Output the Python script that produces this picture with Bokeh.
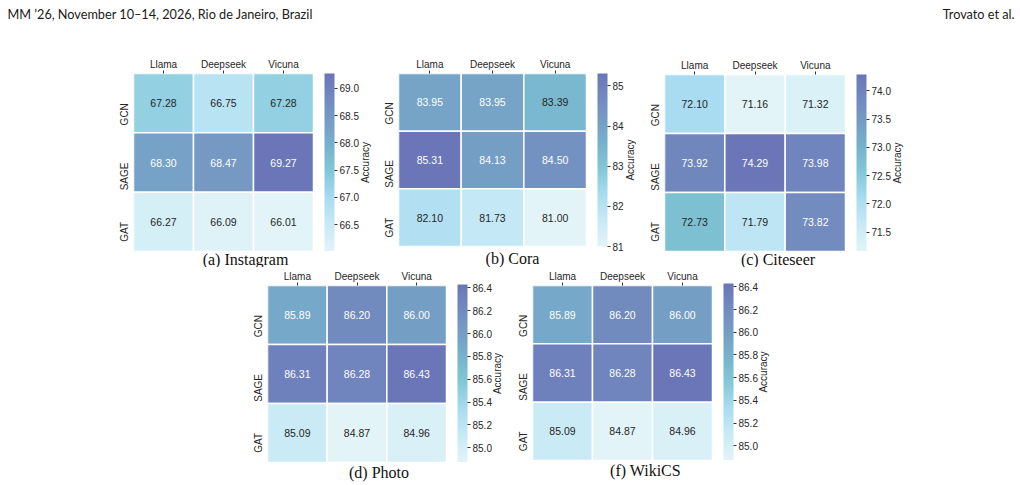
import math
from bokeh.plotting import figure
from bokeh.models import (ColumnDataSource, LinearColorMapper, ColorBar, FixedTicker,
                          PrintfTickFormatter, Label, Spacer, Range1d)
from bokeh.layouts import column, row
from bokeh.transform import transform
from bokeh.embed import file_html
from bokeh.resources import INLINE
from bokeh.core.properties import value

# ---------------- data ----------------
models = ["GCN", "SAGE", "GAT"]
llms = ["Llama", "Deepseek", "Vicuna"]

instagram = [[67.28, 66.75, 67.28], [68.30, 68.47, 69.27], [66.27, 66.09, 66.01]]
cora = [[83.95, 83.95, 83.39], [85.31, 84.13, 84.50], [82.10, 81.73, 81.00]]
citeseer = [[72.10, 71.16, 71.32], [73.92, 74.29, 73.98], [72.73, 71.79, 73.82]]
photo = [[85.89, 86.20, 86.00], [86.31, 86.28, 86.43], [85.09, 84.87, 84.96]]
wikics = [[85.89, 86.20, 86.00], [86.31, 86.28, 86.43], [85.09, 84.87, 84.96]]

instagram_ticks = [66.5, 67.0, 67.5, 68.0, 68.5, 69.0]
cora_ticks = [81, 82, 83, 84, 85]
citeseer_ticks = [71.5, 72.0, 72.5, 73.0, 73.5, 74.0]
photo_ticks = [85.0, 85.2, 85.4, 85.6, 85.8, 86.0, 86.2, 86.4]
wikics_ticks = [85.0, 85.2, 85.4, 85.6, 85.8, 86.0, 86.2, 86.4]

header_left = "MM \u201926, November 10\u201314, 2026, Rio de Janeiro, Brazil"
header_right = "Trovato et al."
cbar_title = "Accuracy"

# ---------------- colormap ----------------
anchors = [(0.0, "#e3f4f8"), (0.15, "#c8eaf5"), (0.30, "#a9dcf1"), (0.46, "#80c7d5"),
           (0.61, "#76afcc"), (0.76, "#7599c3"), (0.92, "#6f82bc"), (1.0, "#6a76b7")]


def h2r(h):
    return tuple(int(h[i:i + 2], 16) for i in (1, 3, 5))


palette = []
for i in range(256):
    t = i / 255
    for (t0, c0), (t1, c1) in zip(anchors, anchors[1:]):
        if t0 <= t <= t1:
            f = (t - t0) / (t1 - t0)
            a, b = h2r(c0), h2r(c1)
            palette.append("#%02x%02x%02x" % tuple(round(a[k] + (b[k] - a[k]) * f) for k in range(3)))
            break


def lum(h):
    r = []
    for c in h2r(h):
        c = c / 255
        r.append(c / 12.92 if c <= 0.04045 else ((c + 0.055) / 1.055) ** 2.4)
    return 0.2126 * r[0] + 0.7152 * r[1] + 0.0722 * r[2]


FONT = "Liberation Sans"
TXT = "#262626"


def blank(w, h, yflip=False):
    f = figure(width=w, height=h, x_range=Range1d(0, w),
               y_range=Range1d(h, 0) if yflip else Range1d(0, h),
               x_axis_type=None, y_axis_type=None, output_backend="svg",
               toolbar_location=None, min_border=0)
    f.grid.visible = False
    f.outline_line_color = None
    return f


def subplot(data, caption, ticks, fmt, bl, fw, bt, fh, sw, acc_dx, cap_h, cap_dx, cap_dy, ext=0):
    flat = [v for r in data for v in r]
    low, high = min(flat), max(flat)
    mapper = LinearColorMapper(palette=palette, low=low, high=high)
    xs, ys, vals, labs, tcol = [], [], [], [], []
    for i, m in enumerate(models):
        for j, l in enumerate(llms):
            v = data[i][j]
            xs.append(l)
            ys.append(m)
            vals.append(v)
            labs.append("%.2f" % v)
            idx = min(255, int((v - low) / (high - low) * 256))
            tcol.append(TXT if lum(palette[idx]) > 0.408 else "#ffffff")
    src = ColumnDataSource(dict(llm=xs, model=ys, val=vals, lab=labs, tc=tcol))
    p = figure(width=bl + fw, height=bt + fh + ext, x_range=llms,
               y_range=list(reversed(models)), x_axis_location="above",
               output_backend="svg", toolbar_location=None,
               min_border_left=bl, min_border_right=0, min_border_top=bt,
               min_border_bottom=ext)
    p.outline_line_color = None
    p.grid.visible = False
    p.rect(x="llm", y="model", width=1, height=1, source=src,
           fill_color=transform("val", mapper), line_color="white", line_width=1.5)
    p.text(x="llm", y="model", text="lab", source=src, text_align="center",
           text_baseline="middle", text_color="tc", text_font=value(FONT),
           text_font_size="10.5px")
    for ax in (p.xaxis[0], p.yaxis[0]):
        ax.axis_line_color = None
        ax.major_label_text_font = FONT
        ax.major_label_text_font_size = "10px"
        ax.major_label_text_color = TXT
        ax.major_tick_in = 0
        ax.minor_tick_line_color = None
        ax.major_tick_line_color = "#333333"
    p.xaxis.major_tick_out = 3
    p.xaxis.major_label_standoff = 1
    p.yaxis.major_tick_out = 0
    p.yaxis.major_label_standoff = 9
    p.yaxis.major_label_orientation = math.pi / 2

    # colour bar strip (own layout box so its frame is the whole strip)
    s = blank(sw, bt + fh + ext)
    cb = ColorBar(color_mapper=mapper, ticker=FixedTicker(ticks=ticks),
                  formatter=PrintfTickFormatter(format=fmt), width=10, height=fh,
                  padding=0, margin=0, major_tick_in=0, major_tick_out=3,
                  major_tick_line_color="#333333", label_standoff=2,
                  major_label_text_font=FONT, major_label_text_font_size="10px",
                  major_label_text_color=TXT, bar_line_color=None,
                  border_line_color=None, background_fill_color=None,
                  location=(11, ext))
    s.add_layout(cb)
    s.add_layout(Label(x=acc_dx, y=ext + fh / 2, text=cbar_title, angle=math.pi / 2,
                       text_align="center", text_baseline="middle", text_font=FONT,
                       text_font_size="10px", text_color=TXT))

    # caption strip
    cw = bl + fw + sw
    c = blank(cw, cap_h - ext, yflip=True)
    c.add_layout(Label(x=bl + fw / 2 + cap_dx, y=cap_dy - ext, text=caption,
                       text_align="center", text_baseline="middle",
                       text_font="Liberation Serif", text_font_size="16px",
                       text_color="#111111"))
    return column(row(p, column(s)), row(c))


sa = subplot(instagram, "(a) Instagram", instagram_ticks, "%.1f", 38, 180, 33, 178, 61, 52, 16, 22, 8)
sb = subplot(cora, "(b) Cora", cora_ticks, "%d", 24, 188, 33, 173, 50, 44, 21, 20, 12, ext=5)
sc = subplot(citeseer, "(c) Citeseer", citeseer_ticks, "%.1f", 28, 181, 34, 177, 60, 52, 16, 23, 8)
sd = subplot(photo, "(d) Photo", photo_ticks, "%.1f", 21, 181, 17, 178, 59, 51, 23, 23, 10)
sf = subplot(wikics, "(f) WikiCS", wikics_ticks, "%.1f", 27, 180, 16, 177, 60, 51, 25, 23, 10)

hdr = blank(1020, 40, yflip=True)
hdr.add_layout(Label(x=7, y=13, text=header_left, text_baseline="middle",
                     text_font="Lato", text_font_size="12.7px", text_color="#1a1a1a"))
hdr.add_layout(Label(x=1014, y=13, text=header_right, text_baseline="middle", text_align="right",
                     text_font="Lato", text_font_size="12.7px", text_color="#1a1a1a"))

layout = column(hdr,
                row(Spacer(width=95), sa, sb, sc),
                row(Spacer(width=244), sd, sf))

open("out.html", "w").write(file_html(layout, INLINE))
